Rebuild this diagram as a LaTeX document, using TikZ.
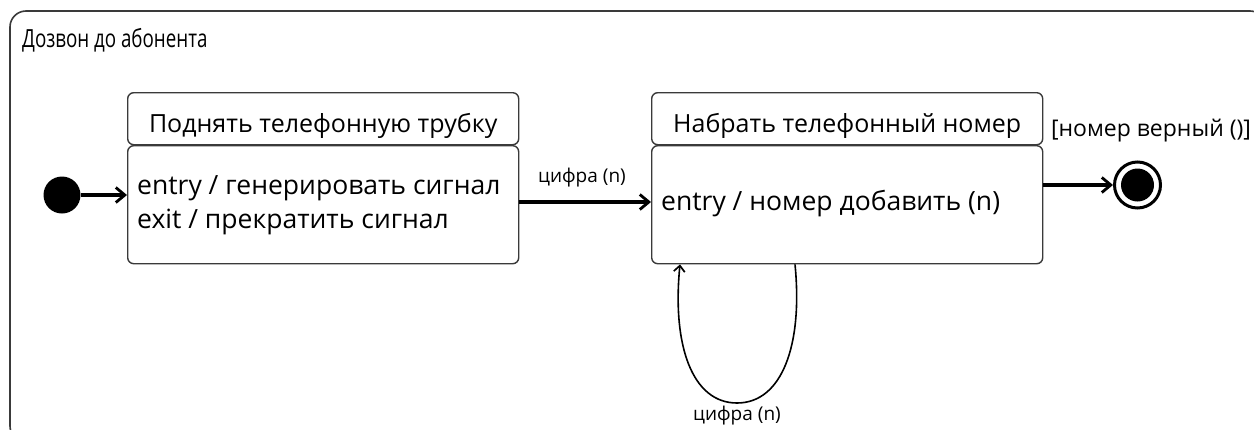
\documentclass[tikz,border=0pt]{standalone}
\usepackage{fontspec}
\setmainfont{Open Sans}
\newfontfamily\narrowfont[FakeStretch=0.75]{Open Sans}
\usetikzlibrary{arrows.meta}
\definecolor{edge}{HTML}{3A3A3A}
\begin{document}
\begin{tikzpicture}[x=1pt,y=-1pt,
  frame/.style={draw=edge,line width=1.6pt,rounded corners=16pt},
  hdr/.style={draw=edge,line width=1.4pt,rounded corners=6pt,anchor=north west,
    minimum width=391pt,minimum height=52pt,inner sep=0pt},
  hdrtext/.style={inner sep=0pt,font=\fontsize{25}{29}\selectfont},
  stbody/.style={draw=edge,line width=1.4pt,rounded corners=6pt,anchor=north west,
    minimum width=391pt,minimum height=118pt,inner sep=0pt},
  acts/.style={anchor=west,align=left,inner sep=0pt,
    font=\fontsize{26.5}{34}\selectfont},
  lbl/.style={inner sep=0pt,font=\fontsize{19}{22}\selectfont},
  trans/.style={draw=black,line width=3.4pt,-{Straight Barb[length=9pt,width=15pt,line width=2.8pt]}},
  selftrans/.style={draw=black,line width=1.6pt,-{Straight Barb[length=6pt,width=11pt,line width=1.7pt]}},
  initstate/.style={circle,fill=black,minimum size=37pt,inner sep=0pt},
  finstate/.style={circle,draw=black,line width=3pt,minimum size=46pt,inner sep=0pt,
    path picture={\fill[black] (path picture bounding box.center) circle[radius=16.5pt];}}
]
\useasboundingbox (0,0) rectangle (1254,429);

% enclosing composite state, running past the page edges
\begin{scope}
  \clip (0,0) rectangle (1254,429);
  \draw[frame] (10,11) rectangle (1266,442);
\end{scope}
\node[anchor=west,inner sep=0pt,font=\narrowfont\fontsize{25}{28}\selectfont] (title) at (22,40) {Дозвон до абонента};

% state: pick up the receiver
\node[hdr] (h1) at (127,92) {};
\node[hdrtext] (t1) at ([yshift=-7pt]h1.center) {Поднять телефонную трубку};
\node[stbody] (b1) at (127,145) {};
\node[acts] (a1) at (137,205) {entry / генерировать сигнал\\exit / прекратить сигнал};

% state: dial the number
\node[hdr] (h2) at (651,92) {};
\node[hdrtext] (t2) at ([yshift=-7pt]h2.center) {Набрать телефонный номер};
\node[stbody] (b2) at (651,145) {};
\node[acts] (a2) at (661,204) {entry / номер добавить (n)};

% pseudo-states
\node[initstate] (init) at (62,195) {};
\node[finstate] (fin) at (1137.5,185) {};

% transitions
\draw[trans] (init.east) -- (init.east -| b1.west);
\draw[trans] (b1.east |- 0,202) -- (b2.west |- 0,202);
\node[lbl] (l1) at (582,178) {цифра (n)};
\draw[trans] (b2.east |- fin) -- (fin.west);
\node[inner sep=0pt,font=\fontsize{23}{27}\selectfont] (guard) at (1151,131) {[номер верный ()]};

% self transition on the dialling state
\coordinate (loopout) at ([xshift=144pt]b2.south west);
\coordinate (loopin) at ([xshift=29pt]b2.south west);
\coordinate (loopbot) at (737,403);
\draw[selftrans] (loopout) .. controls (803,345) and (782,403) .. (loopbot)
  .. controls (692,403) and (672,345) .. (loopin);
\node[lbl,anchor=north] (l2) at (737,406) {цифра (n)};
\end{tikzpicture}
\end{document}
